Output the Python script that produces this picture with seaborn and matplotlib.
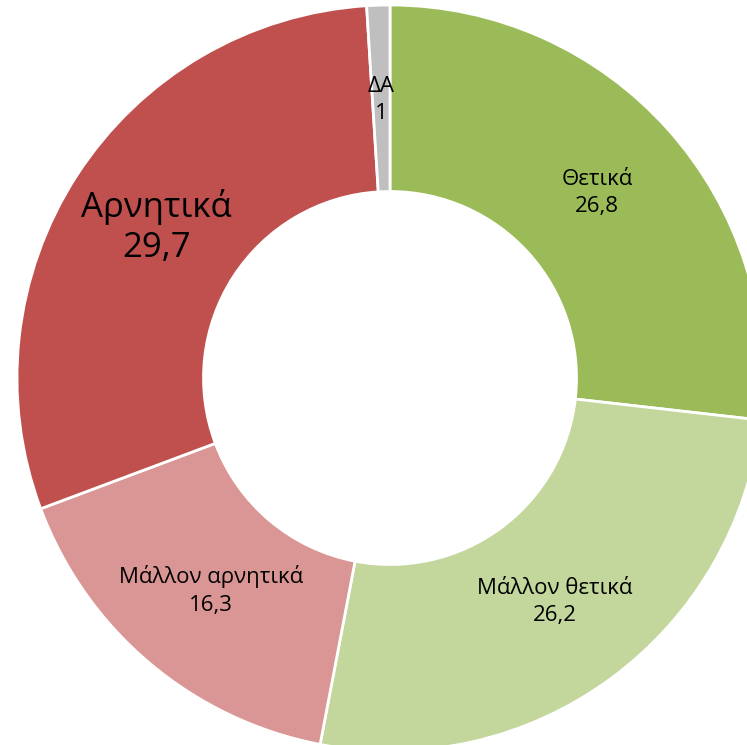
import matplotlib
matplotlib.use("Agg")
import matplotlib.pyplot as plt
import numpy as np
import seaborn as sns

# δεδομένα
categories = ["Θετικά", "Μάλλον θετικά", "Μάλλον αρνητικά", "Αρνητικά", "ΔΑ"]
values = [26.8, 26.2, 16.3, 29.7, 1]
value_labels = ["26,8", "26,2", "16,3", "29,7", "1"]
colors = ["#9BBB59", "#C3D69B", "#D99694", "#C0504D", "#BFBFBF"]
label_sizes = [16, 16, 16, 25, 16]

sns.set_theme(style="white")
plt.rcParams["font.family"] = ["Open Sans", "DejaVu Sans"]

W, H = 747, 745
cx, cy, R = 390, 378, 373  # κέντρο και ακτίνα σε pixels

fig = plt.figure(figsize=(W / 100, H / 100), dpi=100)
ax = fig.add_axes([0, 0, 1, 1])

wedges, _ = ax.pie(values, colors=colors, startangle=90, counterclock=False,
                   radius=1, wedgeprops=dict(width=0.5, edgecolor="white", linewidth=2))

# ετικέτες στο μέσο κάθε τμήματος
for w, cat, lab, fs in zip(wedges, categories, value_labels, label_sizes):
    ang = np.deg2rad((w.theta1 + w.theta2) / 2)
    x, y = 0.745 * np.cos(ang), 0.745 * np.sin(ang)
    ls = 1.25 if fs > 20 else 1.4
    ax.text(x, y, f"{cat}\n{lab}", ha="center", va="center", fontsize=fs,
            color="black", linespacing=ls)

ax.set_xlim(-cx / R, (W - cx) / R)
ax.set_ylim(-(H - cy) / R, cy / R)
ax.set_aspect("equal")
ax.axis("off")

fig.savefig("out.png", dpi=100, facecolor="white")
